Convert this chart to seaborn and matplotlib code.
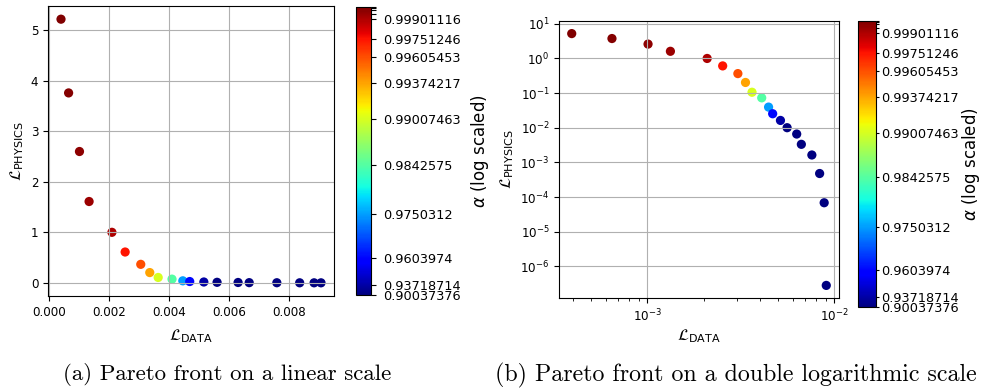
import numpy as np
import pandas as pd
import matplotlib
matplotlib.use("Agg")
import matplotlib.pyplot as plt
import matplotlib.colors as mcolors
import matplotlib.cm as cm
import matplotlib.ticker as mticker
import seaborn as sns

# ---------------- data ----------------
l_data = [0.000395, 0.000648, 0.00101, 0.00133, 0.00209, 0.00253, 0.00305,
          0.00335, 0.00363, 0.00409, 0.00445, 0.00468, 0.00515, 0.00559,
          0.00629, 0.00666, 0.00758, 0.00834, 0.00882, 0.00905]
l_physics = [5.22, 3.76, 2.60, 1.61, 1.00, 0.61, 0.366, 0.203, 0.106, 0.0731,
             0.0395, 0.0254, 0.0163, 0.01005, 0.0066, 0.00333, 0.00164,
             0.000479, 6.87e-5, 2.83e-7]
alpha = [0.99984151, 0.99974881, 0.99960189, 0.99936904, 0.99901116,
         0.99751246, 0.99605453, 0.99374217, 0.99007463, 0.9842575,
         0.9750312, 0.9603974, 0.93718714, 0.90037376, 0.90037376,
         0.90037376, 0.90037376, 0.90037376, 0.90037376, 0.90037376]
cbar_ticks = [0.90037376, 0.93718714, 0.9603974, 0.9750312, 0.9842575,
              0.99007463, 0.99374217, 0.99605453, 0.99751246, 0.99901116,
              0.99936904, 0.99960189, 0.99974881, 0.99984151]
cbar_labels = ["0.90037376", "0.93718714", "0.9603974", "0.9750312",
               "0.9842575", "0.99007463", "0.99374217", "0.99605453",
               "0.99751246", "0.99901116", "", "", "", ""]
captions = ["(a) Pareto front on a linear scale",
            "(b) Pareto front on a double logarithmic scale"]

df = pd.DataFrame({"l_data": l_data, "l_physics": l_physics, "alpha": alpha})

# ---------------- figure ----------------
W, H = 982, 392
fig = plt.figure(figsize=(W / 100, H / 100), dpi=100)


def box(x0, y0, x1, y1):
    return [x0 / W, 1 - y1 / H, (x1 - x0) / W, (y1 - y0) / H]


ax1 = fig.add_axes(box(48, 6, 334, 296))
cax1 = fig.add_axes(box(356, 7, 371, 295))
ax2 = fig.add_axes(box(559, 21, 839, 298))
cax2 = fig.add_axes(box(858, 21, 876, 307))

cmap = plt.get_cmap("jet")
norm = mcolors.FuncNorm((lambda a: np.power(a, 50.0),
                         lambda v: np.power(v, 1.0 / 50.0)),
                        vmin=min(cbar_ticks), vmax=max(cbar_ticks))

tick_fs = 8.6
label_fs = 11.5
cbar_tick_fs = 9.3
cbar_label_fs = 12

for ax, logscale, xpad in ((ax1, False, 6), (ax2, True, 2)):
    sns.scatterplot(data=df, x="l_data", y="l_physics", hue="alpha",
                    palette=cmap, hue_norm=norm, s=44, linewidth=0,
                    legend=False, ax=ax)
    if logscale:
        ax.set_xscale("log")
        ax.set_yscale("log")
        ax.yaxis.set_major_locator(mticker.LogLocator(base=10, numticks=20))
        ax.yaxis.set_minor_locator(mticker.NullLocator())
    ax.grid(True, color="#b0b0b0", linewidth=0.8)
    ax.set_xlabel(r"$\mathcal{L}_{\mathrm{DATA}}$", fontsize=label_fs,
                  labelpad=xpad)
    ax.set_ylabel(r"$\mathcal{L}_{\mathrm{PHYSICS}}$", fontsize=label_fs,
                  labelpad=3)
    ax.tick_params(labelsize=tick_fs)

ax1.set_yticks([0, 1, 2, 3, 4, 5])

for cax, tl, tp, lp in ((cax1, 3.5, 5, 6), (cax2, 2.5, 1.5, 0.5)):
    sm = cm.ScalarMappable(norm=norm, cmap=cmap)
    cb = fig.colorbar(sm, cax=cax)
    cb.set_ticks(cbar_ticks, labels=cbar_labels)
    cb.minorticks_off()
    cb.ax.tick_params(labelsize=cbar_tick_fs, length=tl, pad=tp)
    cb.set_label(r"$\alpha$ (log scaled)", fontsize=cbar_label_fs,
                 labelpad=lp)

fig.text(227 / W, 1 - 375 / H, captions[0], family="cmr10", fontsize=16.5,
         ha="center", va="center")
fig.text(736 / W, 1 - 375 / H, captions[1], family="cmr10", fontsize=17.2,
         ha="center", va="center")

fig.savefig("out.png", dpi=100)
